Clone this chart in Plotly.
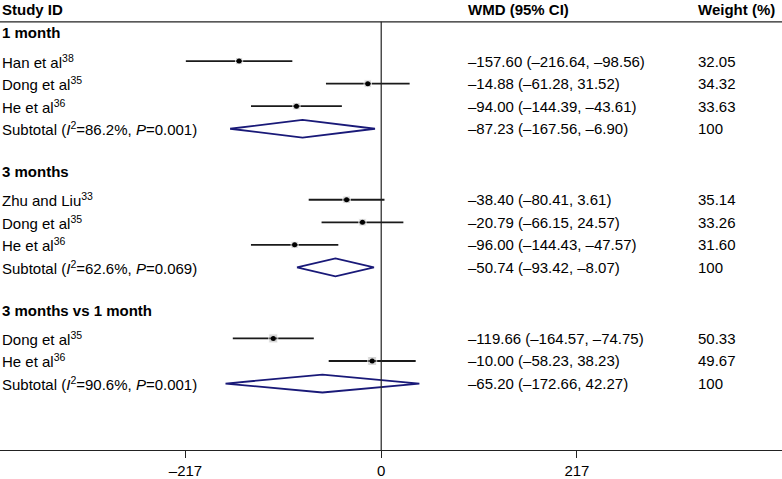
import plotly.graph_objects as go

# Data
group_names = ['1 month', '3 months', '3 months vs 1 month']
study_group = [0, 0, 0, 1, 1, 1, 2, 2]
study_names = ['Han et al', 'Dong et al', 'He et al', 'Zhu and Liu',
               'Dong et al', 'He et al', 'Dong et al', 'He et al']
study_refs = ['38', '35', '36', '33', '35', '36', '35', '36']
wmd = [-157.60, -14.88, -94.00, -38.40, -20.79, -96.00, -119.66, -10.00]
ci_low = [-216.64, -61.28, -144.39, -80.41, -66.15, -144.43, -164.57, -58.23]
ci_high = [-98.56, 31.52, -43.61, 3.61, 24.57, -47.57, -74.75, 38.23]
weights = [32.05, 34.32, 33.63, 35.14, 33.26, 31.60, 50.33, 49.67]

sub_i2 = ['86.2', '62.6', '90.6']
sub_p = ['0.001', '0.069', '0.001']
sub_wmd = [-87.23, -50.74, -65.20]
sub_low = [-167.56, -93.42, -172.66]
sub_high = [-6.90, -8.07, 42.27]

tick_vals = [-217, 0, 217]

FONT = 'Liberation Sans, Arial, sans-serif'
FS = 15
NAVY = 'rgb(25,25,120)'


def fmt(v):
    return f'{v:.2f}'.replace('-', '\u2013')


# row positions (y axis is in pixel units, top = 0)
y_head, y_study, y_sub = [], [], []
y = 33
for g in range(len(group_names)):
    y_head.append(y)
    y += 28.5
    for i in range(len(study_group)):
        if study_group[i] == g:
            y_study.append(y)
            y += 22.7
    y_sub.append(y)
    y += 43

fig = go.Figure()

# confidence interval lines
cx, cy = [], []
for lo, hi, yy in zip(ci_low, ci_high, y_study):
    cx += [lo, hi, None]
    cy += [yy, yy, None]
fig.add_trace(go.Scatter(x=cx, y=cy, mode='lines',
                         line=dict(color='#1a1a1a', width=1.8),
                         hoverinfo='skip', showlegend=False))

# weight boxes
fig.add_trace(go.Scatter(x=wmd, y=y_study, mode='markers',
                         marker=dict(symbol='square', color='rgba(150,150,150,0.55)',
                                     size=[9 * (w / 50) ** 0.5 for w in weights]),
                         showlegend=False))
# point estimates
fig.add_trace(go.Scatter(x=wmd, y=y_study, mode='markers',
                         marker=dict(color='black', size=5),
                         showlegend=False))

# subtotal diamonds
dx, dy = [], []
for lo, est, hi, yy in zip(sub_low, sub_wmd, sub_high, y_sub):
    dx += [lo, est, hi, est, lo, None]
    dy += [yy, yy - 9, yy, yy + 9, yy, None]
fig.add_trace(go.Scatter(x=dx, y=dy, mode='lines',
                         line=dict(color=NAVY, width=1.8),
                         showlegend=False))

shapes = [
    dict(type='line', xref='paper', yref='y', x0=0, x1=1, y0=22, y1=22,
         line=dict(color='#222', width=1.2)),
    dict(type='line', xref='x', yref='y', x0=0, x1=0, y0=22, y1=453,
         line=dict(color='#222', width=1.2)),
]

ann = []


def text(x, yy, s, bold=False):
    ann.append(dict(xref='paper', yref='y', x=x, y=yy, text=f'<b>{s}</b>' if bold else s,
                    showarrow=False, xanchor='left', yanchor='middle',
                    font=dict(family=FONT, size=FS, color='black')))


X_WMD = 466 / 782
X_W = 696 / 782
text(0, 10, 'Study ID', True)
text(X_WMD, 10, 'WMD (95% CI)', True)
text(X_W, 10, 'Weight (%)', True)

for g in range(len(group_names)):
    text(0, y_head[g], group_names[g], True)
    text(0, y_sub[g], f'Subtotal (<i>I</i><sup>2</sup>={sub_i2[g]}%, <i>P</i>={sub_p[g]})')
    text(X_WMD, y_sub[g], f'{fmt(sub_wmd[g])} ({fmt(sub_low[g])}, {fmt(sub_high[g])})')
    text(X_W, y_sub[g], '100')

for i in range(len(study_names)):
    text(0, y_study[i], f'{study_names[i]}<sup>{study_refs[i]}</sup>')
    text(X_WMD, y_study[i], f'{fmt(wmd[i])} ({fmt(ci_low[i])}, {fmt(ci_high[i])})')
    text(X_W, y_study[i], f'{weights[i]:.2f}')

fig.update_layout(
    width=782, height=479,
    margin=dict(l=0, r=0, t=0, b=26),
    paper_bgcolor='white', plot_bgcolor='white',
    shapes=shapes, annotations=ann,
    xaxis=dict(range=[-422.7, 444.4], showgrid=False, zeroline=False,
               showline=True, linecolor='#222', linewidth=1.2,
               ticks='outside', ticklen=7, tickcolor='#222',
               tickvals=tick_vals,
               ticktext=[fmt(v).replace('.00', '') for v in tick_vals],
               tickfont=dict(family=FONT, size=FS, color='black')),
    yaxis=dict(range=[453, 0], visible=False),
)

# drop the page's default body margin so the figure sits at the top-left corner
fig.write_html('out.html', config={'displayModeBar': False},
               post_script="document.body.style.margin = '0';")
